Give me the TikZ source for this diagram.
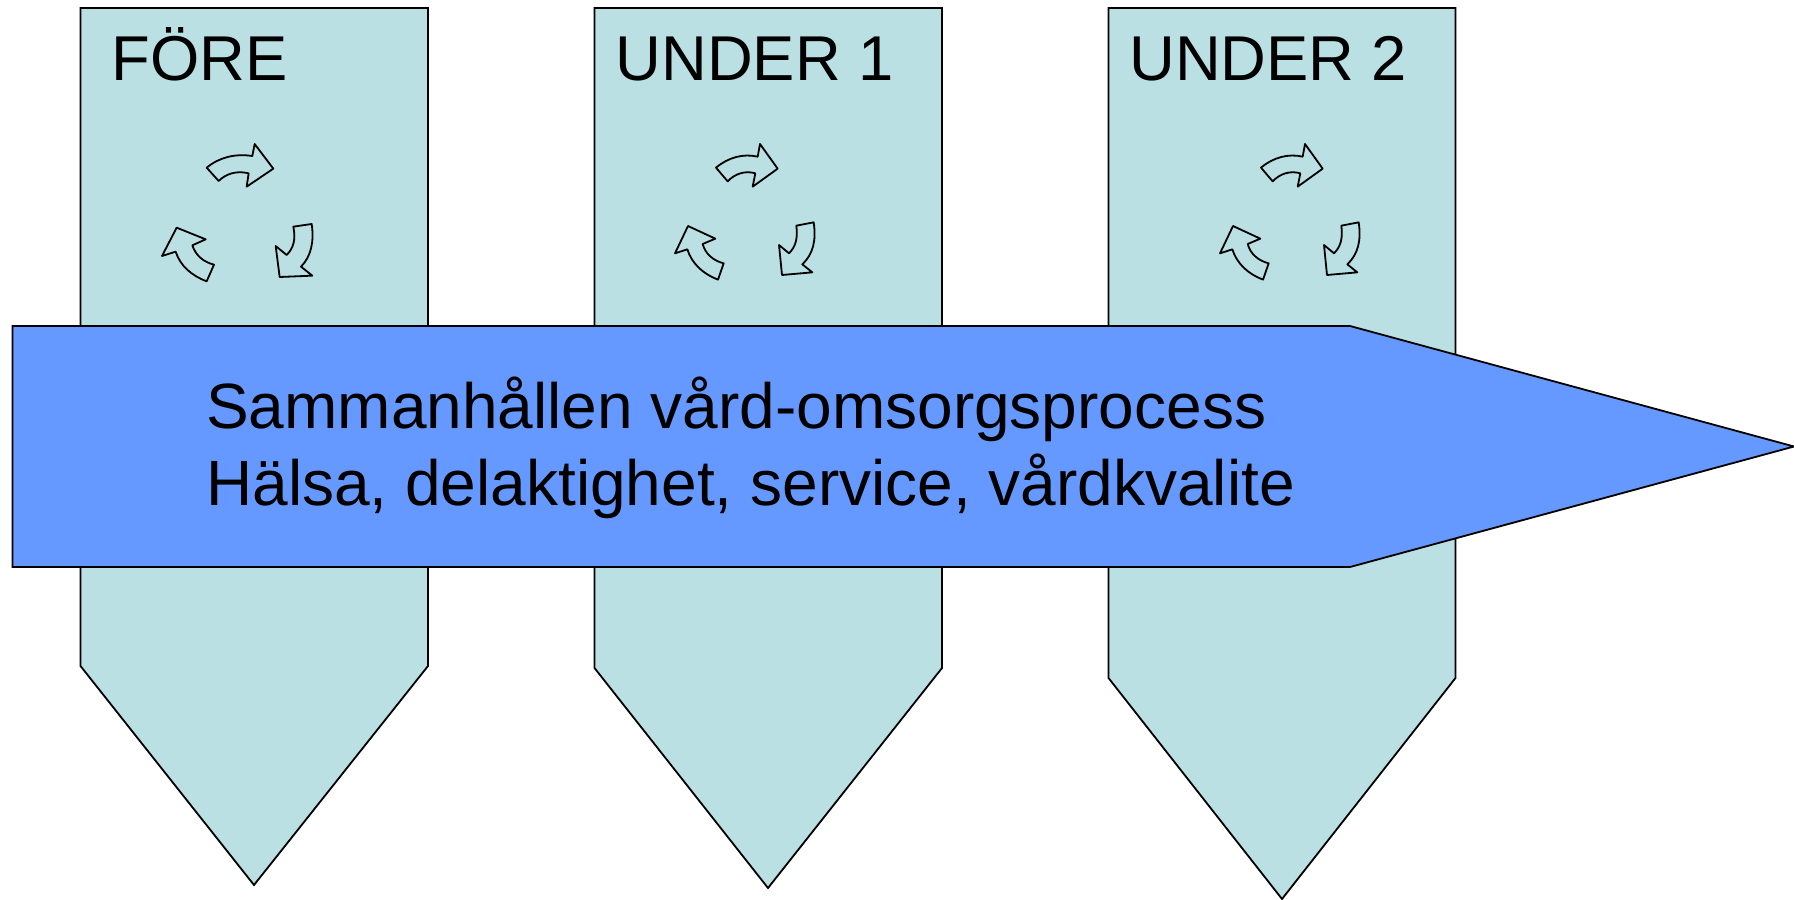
\documentclass[tikz,border=0pt]{standalone}
\usepackage{fontspec}
\setmainfont{Liberation Sans}
\definecolor{panel}{HTML}{BAE0E3}
\definecolor{banner}{HTML}{6699FF}
\tikzset{
  x=0.75pt,y=-0.75pt,
  outline/.style={draw=black,line width=1.35pt,line join=miter},
  panelshape/.style={outline,fill=panel},
  bannershape/.style={outline,fill=banner},
  cycle arrow/.style={draw=black,line width=1.35pt,line join=round},
  label/.style={anchor=base west,inner sep=0pt,text=black},
  headlabel/.style={label,font=\fontsize{47.5}{56}\selectfont},
  mainlabel/.style={label,font=\fontsize{48}{56}\selectfont},
}
\newcommand{\cycleset}[2]{%
  \begin{scope}[shift={(#1,#2)},scale=1/3]
    \draw[cycle arrow] (198,113) -- (233,154) .. controls (255,131) and (285,121) .. (316,130) -- (308,170) -- (383,116) -- (330,42) -- (323,80) .. controls (280,70) and (235,82) .. (198,113) -- cycle;
    \draw[cycle arrow] (221,400) -- (204,449) .. controls (160,432) and (126,402) .. (112,358) -- (75,370) -- (114,288) -- (196,326) -- (158,342) .. controls (166,372) and (190,392) .. (221,400) -- cycle;
    \draw[cycle arrow] (439,287) -- (491,277) .. controls (499,330) and (490,372) .. (457,403) -- (487,427) -- (396,435) -- (387,345) -- (417,370) .. controls (437,350) and (444,325) .. (439,287) -- cycle;
  \end{scope}}
\begin{document}
\begin{tikzpicture}
\useasboundingbox (0,0) rectangle (1794,899);
% panels
\draw[panelshape] (80.5,8) -- (428,8) -- (428,666) -- (254,885) -- (80.5,666) -- cycle;
\draw[panelshape] (594.5,8) -- (942,8) -- (942,668) -- (768,888) -- (594.5,668) -- cycle;
\draw[panelshape] (1108.5,8) -- (1455.5,8) -- (1455.5,678) -- (1282,899) -- (1108.5,678) -- cycle;
% labels
\node[headlabel] (fore) at (111.5,80) {FÖRE};
\node[headlabel] (under1) at (615.5,80) {UNDER 1};
\node[headlabel] (under2) at (1129,80) {UNDER 2};
% cycle arrows
\begin{scope}[shift={(140,130)},scale=1/3]
  \draw[cycle arrow] (200,113) -- (236,153) .. controls (258,131) and (290,121) .. (326,130) -- (320,170) -- (400,116) -- (344,42) -- (337,78) .. controls (285,70) and (238,82) .. (200,113) -- cycle;
  \draw[cycle arrow] (222,404) -- (200,454) .. controls (155,437) and (121,408) .. (107,365) -- (66,378) -- (110,293) -- (197,328) -- (157,346) .. controls (167,376) and (190,396) .. (222,404) -- cycle;
  \draw[cycle arrow] (460,290) -- (515,282) .. controls (523,335) and (513,380) .. (483,410) -- (517,437) -- (419,441) -- (407,348) -- (440,375) .. controls (460,355) and (468,330) .. (460,290) -- cycle;
\end{scope}
\cycleset{650}{130}
\cycleset{1195}{130}
% banner
\draw[bannershape] (12.5,326) -- (1350,326) -- (1794,446.5) -- (1350,567) -- (12.5,567) -- cycle;
\node[mainlabel] (line1) at (206,428.5) {Sammanhållen vård-omsorgsprocess};
\node[mainlabel] (line2) at (206,505.5) {Hälsa, delaktighet, service, vårdkvalite};
\end{tikzpicture}
\end{document}
